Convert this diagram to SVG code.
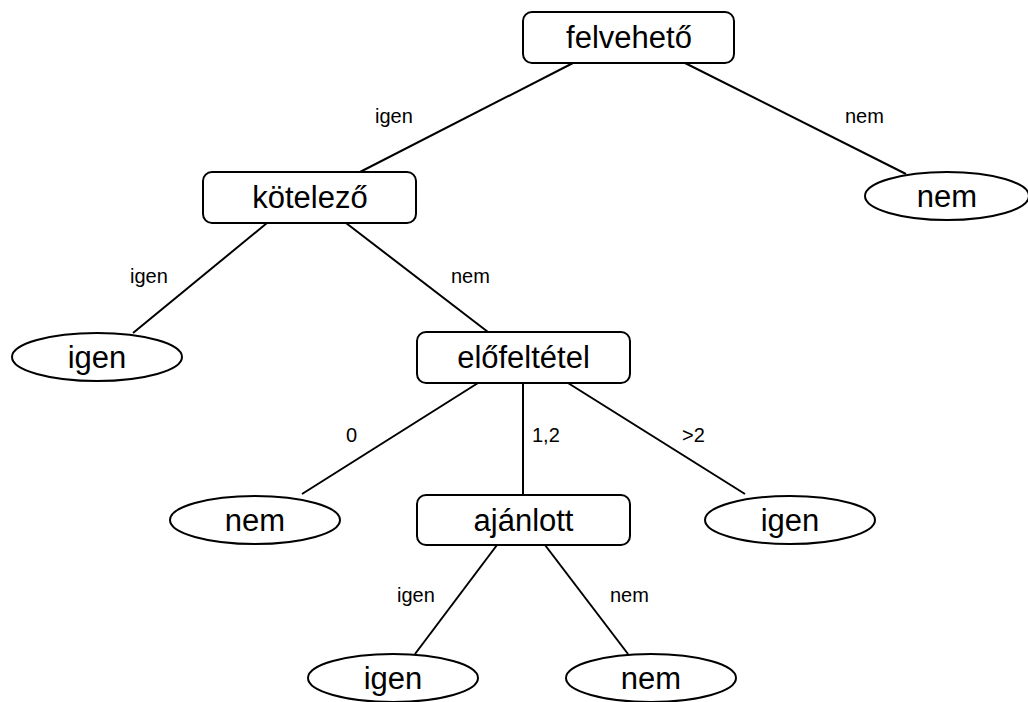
<svg xmlns="http://www.w3.org/2000/svg" width="1028" height="702" viewBox="0 0 1028 702">
<style>
.box{fill:#fff;stroke:#000;stroke-width:2}
.leaf{fill:#fff;stroke:#000;stroke-width:2}
.edge{stroke:#000;stroke-width:2;fill:none}
.nt{font-family:"Liberation Sans",Arial,sans-serif;font-size:31px;text-anchor:middle;fill:#000}
.lt{font-family:"Liberation Sans",Arial,sans-serif;font-size:20px;fill:#000}
</style>
<rect width="1028" height="702" fill="#fff"/>
<g id="connectors">
<line class="edge" x1="573" y1="63" x2="360" y2="172"/>
<line class="edge" x1="685" y1="63" x2="906" y2="174"/>
<line class="edge" x1="267" y1="223" x2="133" y2="333"/>
<line class="edge" x1="346" y1="223" x2="488" y2="332"/>
<line class="edge" x1="478" y1="383" x2="302" y2="494"/>
<line class="edge" x1="523" y1="383" x2="523" y2="495"/>
<line class="edge" x1="568" y1="383" x2="745" y2="494"/>
<line class="edge" x1="497" y1="545" x2="415" y2="654"/>
<line class="edge" x1="545" y1="545" x2="628" y2="654"/>
<text class="lt" x="375" y="123">igen</text>
<text class="lt" x="845" y="123">nem</text>
<text class="lt" x="130" y="283">igen</text>
<text class="lt" x="451" y="283">nem</text>
<text class="lt" x="346" y="442">0</text>
<text class="lt" x="532" y="442">1,2</text>
<text class="lt" x="682" y="442">&gt;2</text>
<text class="lt" x="397" y="602">igen</text>
<text class="lt" x="610" y="602">nem</text>
</g>
<g id="n-felveheto"><rect class="box" x="523" y="12" width="211" height="51" rx="9"/><text class="nt" x="629" y="48">felvehető</text></g>
<g id="n-kotelezo"><rect class="box" x="203" y="172" width="213" height="51" rx="9"/><text class="nt" x="310" y="208">kötelező</text></g>
<g id="n-nem1"><ellipse class="leaf" cx="947" cy="196" rx="82" ry="24"/><text class="nt" x="947" y="207">nem</text></g>
<g id="n-igen1"><ellipse class="leaf" cx="97" cy="357" rx="85" ry="24"/><text class="nt" x="97" y="368">igen</text></g>
<g id="n-elofeltetel"><rect class="box" x="417" y="332" width="213" height="51" rx="9"/><text class="nt" x="523.5" y="368">előfeltétel</text></g>
<g id="n-nem2"><ellipse class="leaf" cx="255" cy="520" rx="85" ry="24"/><text class="nt" x="255" y="531">nem</text></g>
<g id="n-ajanlott"><rect class="box" x="417" y="495" width="213" height="50" rx="9"/><text class="nt" x="523.5" y="531">ajánlott</text></g>
<g id="n-igen2"><ellipse class="leaf" cx="790" cy="520" rx="85" ry="24"/><text class="nt" x="790" y="531">igen</text></g>
<g id="n-igen3"><ellipse class="leaf" cx="393" cy="678" rx="85" ry="24"/><text class="nt" x="393" y="689">igen</text></g>
<g id="n-nem3"><ellipse class="leaf" cx="651" cy="678" rx="85" ry="24"/><text class="nt" x="651" y="689">nem</text></g>
</svg>
